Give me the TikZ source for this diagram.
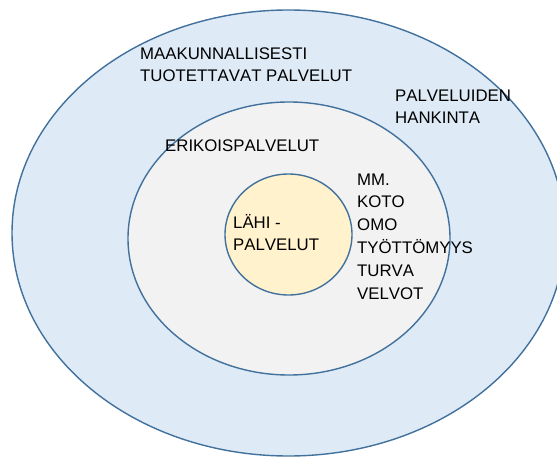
\documentclass[tikz,border=0pt]{standalone}
\usepackage{fontspec}
\setmainfont[Kerning=Off]{Liberation Sans}
\usetikzlibrary{shapes.geometric}
\definecolor{ringline}{HTML}{41719C}
\definecolor{outerfill}{HTML}{DEEAF6}
\definecolor{midfill}{HTML}{F2F2F2}
\definecolor{innerfill}{HTML}{FFF2CC}
\tikzset{
  ring/.style={draw=ringline,line width=1.4pt,ellipse,inner sep=0pt},
  lbl/.style={anchor=base west,align=left,inner sep=0pt,
    font=\fontsize{16.8}{22.8}\selectfont}
}

\begin{document}
\begin{tikzpicture}[x=1pt,y=-1pt]
      \useasboundingbox (0,0) rectangle (557,457);
      \node at (288.5,233) [ring,fill=outerfill,minimum width=553pt,
        minimum height=446pt, name=outer] {};
      \node at (289,238.5) [ring,fill=midfill,minimum width=322pt,
        minimum height=273pt, name=mid] {};
      \node at (288.5,234.5) [ring,fill=innerfill,minimum width=127pt,
        minimum height=121pt, name=inner] {};

      % base anchor sits on the last line
      \node at (140,82) [lbl, name=maak]
      {MAAKUNNALLISESTI\\TUOTETTAVAT PALVELUT};
      \node at (395,124) [lbl, name=hank]
      {PALVELUIDEN\\HANKINTA};
      \node at (165,152) [lbl, name=erik]
      {ERIKOISPALVELUT};
      \node at (233,251) [lbl, name=lahi]
      {LÄHI -\\PALVELUT};
      \node at (357,299) [lbl, name=mm]
      {MM.\\KOTO\\OMO\\TYÖTTÖMYYS\\TURVA\\VELVOT};
    \end{tikzpicture}
\end{document}
